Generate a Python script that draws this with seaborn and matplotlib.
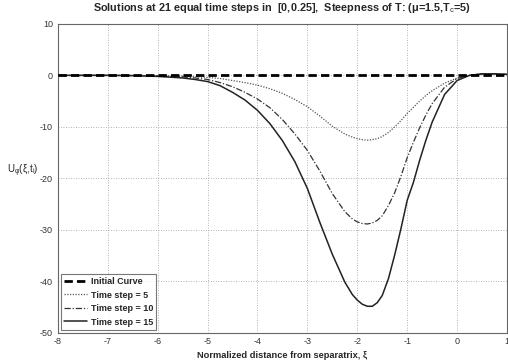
import numpy as np
import pandas as pd
import matplotlib
matplotlib.use("Agg")
import matplotlib.pyplot as plt
import seaborn as sns

sns.set_style("white")
plt.rcParams['font.family'] = ['Liberation Sans', 'DejaVu Sans']
plt.rcParams['axes.unicode_minus'] = False
plt.rcParams['mathtext.fontset'] = 'custom'
plt.rcParams['mathtext.rm'] = 'Liberation Sans'
plt.rcParams['mathtext.it'] = 'Liberation Sans'
plt.rcParams['mathtext.bf'] = 'Liberation Sans:bold'

x_init = [-8, -7, -6, -5, -4, -3, -2, -1, 0, 1]
y_init = [0, 0, 0, 0, 0, 0, 0, 0, 0, 0]

x_curve = [-8, -7, -6.5, -6, -5.5, -5.25, -5.0, -4.75, -4.5, -4.25, -4.0, -3.75, -3.5,
           -3.25, -3.0, -2.75, -2.5, -2.25, -2.1, -2.0, -1.9, -1.8, -1.7, -1.6, -1.5,
           -1.375, -1.25, -1.125, -1.0, -0.875, -0.75, -0.625, -0.5, -0.25, 0.0,
           0.25, 0.5, 0.75, 1.0]
y_step5 = [0, 0, -0.02, -0.05, -0.15, -0.25, -0.4, -0.6, -1.0, -1.4, -1.9, -2.6, -3.5,
           -4.7, -6.1, -7.9, -9.9, -11.4, -12.0, -12.3, -12.5, -12.6, -12.5, -12.3, -11.9,
           -11.1, -10.0, -8.8, -7.4, -6.2, -5.0, -3.9, -3.0, -1.5, -0.5,
           0.0, 0.3, 0.3, 0.2]
y_step10 = [0, 0, -0.03, -0.1, -0.3, -0.5, -0.8, -1.4, -2.2, -3.3, -4.6, -6.3, -8.6,
            -11.4, -14.6, -18.6, -23.0, -26.5, -27.9, -28.5, -28.8, -28.9, -28.7, -28.2, -27.3,
            -25.3, -22.8, -19.6, -16.0, -13.0, -10.2, -7.7, -5.5, -2.3, -0.6,
            0.0, 0.3, 0.3, 0.2]
y_step15 = [0, 0, -0.05, -0.2, -0.5, -0.8, -1.2, -2.0, -3.3, -4.8, -6.8, -9.4, -12.7,
            -16.8, -22.0, -28.6, -34.8, -40.2, -42.6, -43.7, -44.5, -44.9, -44.9, -44.2, -42.8,
            -39.5, -34.9, -29.8, -24.3, -20.8, -16.5, -12.6, -9.1, -3.7, -1.0,
            0.0, 0.3, 0.3, 0.2]

labels = ["Initial Curve", "Time step = 5", "Time step = 10", "Time step = 15"]

fig = plt.figure(figsize=(5.08, 3.63), dpi=100)
ax = fig.add_axes([0.114, 0.084, 0.884, 0.850])

sns.lineplot(x=x_curve, y=y_step5, ax=ax, color="#555555", lw=0.9,
             linestyle=(0, (1, 1.2)), label=labels[1], zorder=3)
sns.lineplot(x=x_curve, y=y_step10, ax=ax, color="#333333", lw=0.9,
             linestyle=(0, (5, 1.5, 1, 1.5)), label=labels[2], zorder=3)
sns.lineplot(x=x_curve, y=y_step15, ax=ax, color="#222222", lw=1.1,
             linestyle="-", label=labels[3], zorder=3)
sns.lineplot(x=x_init, y=y_init, ax=ax, color="black", lw=2.0,
             linestyle=(0, (3, 1.5)), label=labels[0], zorder=4)

ax.set_xlim(-8, 1)
ax.set_ylim(-50, 10)
ax.set_xticks(range(-8, 2))
ax.set_yticks(range(-50, 11, 10))
ax.grid(True, linestyle=(0, (1, 2)), color="#999999", lw=0.6)
for s in ax.spines.values():
    s.set_color("#666666")
    s.set_linewidth(0.8)
ax.tick_params(axis="both", labelsize=6.5, colors="#444444", length=2, direction="in")
for t in ax.get_xticklabels() + ax.get_yticklabels():
    t.set_color("#333333")

ax.set_title("Solutions at 21 equal time steps in  [0,0.25],  Steepness of T: (\u03bc=1.5,T$_{\\mathrm{c}}$=5)",
             fontsize=7.8, fontweight="bold", pad=9)
ax.set_xlabel("Normalized distance from separatrix, \u03be", fontsize=6.7, fontweight="bold", labelpad=3)
ax.set_ylabel("U$_{\\mathrm{\u03c6}}$(\u03be,t$_{\\mathrm{i}}$)", fontsize=7, rotation=0,
              va="center", ha="center")
ax.yaxis.set_label_coords(-0.078, 0.525)

handles, labs = ax.get_legend_handles_labels()
order = [3, 0, 1, 2]
leg = ax.legend([handles[i] for i in order], [labs[i] for i in order],
                loc="lower left", prop={"weight": "bold", "size": 6.5},
                frameon=True, fancybox=False, edgecolor="#555555",
                handlelength=2.6, handletextpad=0.4, labelspacing=0.5,
                borderpad=0.35, borderaxespad=0.3)
leg.get_frame().set_linewidth(0.8)

fig.savefig("out.png", dpi=100)
